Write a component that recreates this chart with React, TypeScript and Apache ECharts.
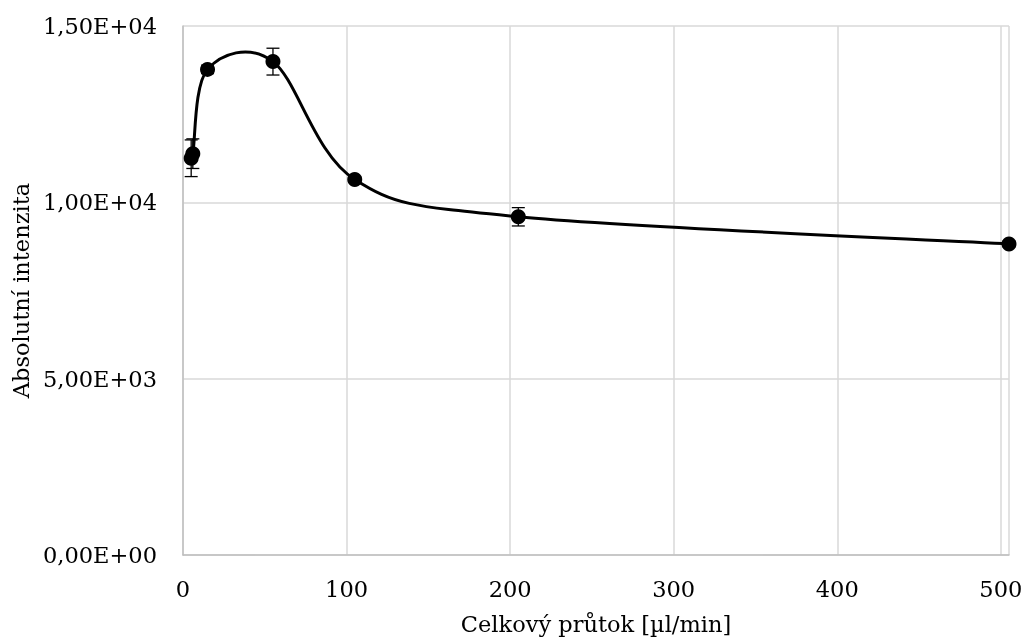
import React, { useEffect, useRef } from "react";
import * as echarts from "echarts";

const flowRates = [5, 6, 15, 55, 105, 205, 505];
const intensities = [11250, 11380, 13770, 13990, 10650, 9590, 8820];
const errors = [520, 420, 120, 380, 80, 260, 80];
const xTicks = [0, 100, 200, 300, 400, 500];
const yTicks = [0, 5000, 10000, 15000];

const FONT = "DejaVu Serif";
const FS = 22.5;

function fmtExp(v: number): string {
  if (v === 0) return "0,00E+00";
  const e = Math.floor(Math.log10(Math.abs(v)));
  const m = v / Math.pow(10, e);
  const es = (e < 0 ? "-" : "+") + String(Math.abs(e)).padStart(2, "0");
  return m.toFixed(2).replace(".", ",") + "E" + es;
}

export default function App() {
  const ref = useRef<HTMLDivElement>(null);
  useEffect(() => {
    if (!ref.current) return;
    const chart = echarts.init(ref.current, undefined, { renderer: "svg" });
    const pts = flowRates.map((x, i) => [x, intensities[i]]);
    const errData = flowRates.map((x, i) => [x, intensities[i] - errors[i], intensities[i] + errors[i]]);
    const n = pts.length;
    chart.setOption({
      animation: false,
      grid: { left: 183, right: 18, top: 26, bottom: 89 },
      xAxis: {
        type: "value",
        min: 0,
        max: 505,
        interval: 100,
        name: "Celkový průtok [µl/min]",
        nameLocation: "middle",
        nameGap: 57,
        nameTextStyle: { fontFamily: FONT, fontSize: FS, color: "#000" },
        axisLine: { show: true, lineStyle: { color: "#bfbfbf", width: 1.5 } },
        axisTick: { show: false },
        axisLabel: {
          fontFamily: FONT,
          fontSize: FS,
          color: "#000",
          margin: 22,
          customValues: xTicks,
          formatter: (v: number) => String(v),
        },
        splitLine: { show: true, lineStyle: { color: "#d9d9d9", width: 1.5 } },
      },
      yAxis: {
        type: "value",
        min: 0,
        max: 15000,
        interval: 5000,
        name: "Absolutní intenzita",
        nameLocation: "middle",
        nameGap: 150,
        nameTextStyle: { fontFamily: FONT, fontSize: FS, color: "#000" },
        axisLine: { show: true, lineStyle: { color: "#bfbfbf", width: 1.5 } },
        axisTick: { show: false },
        axisLabel: {
          fontFamily: FONT,
          fontSize: FS,
          color: "#000",
          margin: 26,
          formatter: (v: number) => (yTicks.includes(v) ? fmtExp(v) : ""),
        },
        splitLine: { show: true, lineStyle: { color: "#d9d9d9", width: 1.5 } },
      },
      series: [
        {
          type: "custom",
          data: pts,
          z: 2,
          renderItem: (params: any, api: any) => {
            const i = params.dataIndex;
            if (i >= n - 1) return null;
            const c = (k: number) => {
              const kk = Math.max(0, Math.min(n - 1, k));
              return api.coord(pts[kk]);
            };
            const p0 = c(i - 1);
            const p1 = c(i);
            const p2 = c(i + 1);
            const p3 = c(i + 2);
            return {
              type: "bezierCurve",
              shape: {
                x1: p1[0],
                y1: p1[1],
                x2: p2[0],
                y2: p2[1],
                cpx1: p1[0] + (p2[0] - p0[0]) / 6,
                cpy1: p1[1] + (p2[1] - p0[1]) / 6,
                cpx2: p2[0] - (p3[0] - p1[0]) / 6,
                cpy2: p2[1] - (p3[1] - p1[1]) / 6,
              },
              style: { stroke: "#000", lineWidth: 3, fill: null },
            };
          },
        },
        {
          type: "custom",
          data: errData,
          z: 3,
          renderItem: (params: any, api: any) => {
            const x = api.value(0);
            const lo = api.coord([x, api.value(1)]);
            const hi = api.coord([x, api.value(2)]);
            const w = 6.5;
            const style = { stroke: "#000", lineWidth: 1.3 };
            return {
              type: "group",
              children: [
                { type: "line", shape: { x1: lo[0], y1: lo[1], x2: hi[0], y2: hi[1] }, style },
                { type: "line", shape: { x1: lo[0] - w, y1: lo[1], x2: lo[0] + w, y2: lo[1] }, style },
                { type: "line", shape: { x1: hi[0] - w, y1: hi[1], x2: hi[0] + w, y2: hi[1] }, style },
              ],
            };
          },
        },
        {
          type: "scatter",
          data: pts,
          symbol: "circle",
          symbolSize: 15,
          itemStyle: { color: "#000", opacity: 1 },
          z: 4,
        },
      ],
    });
    return () => chart.dispose();
  }, []);
  return <div ref={ref} style={{ width: 1027, height: 644, position: "fixed", left: 0, top: 0 }} />;
}
